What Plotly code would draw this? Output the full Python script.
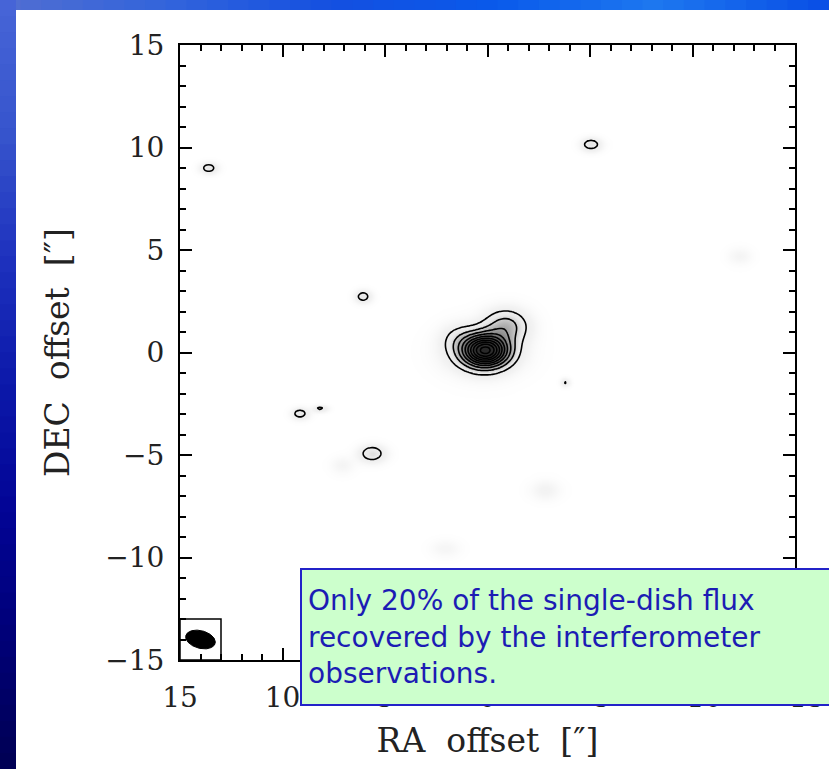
import numpy as np
import plotly.graph_objects as go

# ---------------- data ----------------
# emission components: RA offset, DEC offset ["], peak (contour units), widths ["]
src_ra = [0.10, 0.30, -0.90, 1.40, 13.6, -5.05, 6.07, 9.15, 8.17, 5.63, -3.78,
          -2.8, -12.3, 7.1, 2.07]
src_dec = [0.10, 0.05, 1.30, 0.70, 9.0, 10.15, 2.73, -2.98, -2.73, -4.93, -1.46,
           -6.7, 4.7, -5.5, -9.56]
src_amp = [9.0, 1.4, 2.3, 0.8, 1.4, 1.5, 1.4, 1.4, 1.15, 1.6, 1.08,
           0.55, 0.45, 0.45, 0.4]
src_sx = [0.72, 1.2, 0.72, 0.6, 0.30, 0.35, 0.28, 0.30, 0.25, 0.45, 0.15,
          0.5, 0.4, 0.4, 0.5]
src_sy = [0.50, 0.78, 0.55, 0.5, 0.20, 0.22, 0.22, 0.20, 0.12, 0.30, 0.15,
          0.35, 0.3, 0.3, 0.3]

contour_levels = dict(start=1, end=10, size=1)

beam_center = (14.0, -14.0)
beam_major = 0.74   # semi-axis ["]
beam_minor = 0.43
beam_angle = 15.0   # deg, from RA axis
beam_box = (13.0, 15.0, -15.0, -13.0)

tick_vals = [15, 10, 5, 0, -5, -10, -15]
tick_text = ["15", "10", "5", "0", "\u22125", "\u221210", "\u221215"]

note_text = ("Only 20% of the single-dish flux<br>"
             "recovered by the interferometer<br>"
             "observations.")

# ---------------- model image ----------------
ra = np.arange(-15, 15.0001, 0.1)
dec = np.arange(-15, 15.0001, 0.1)
RA, DEC = np.meshgrid(ra, dec)
img = np.zeros_like(RA)
for x0, y0, a, sx, sy in zip(src_ra, src_dec, src_amp, src_sx, src_sy):
    img += a * np.exp(-((RA - x0) ** 2 / (2 * sx ** 2) + (DEC - y0) ** 2 / (2 * sy ** 2)))

ZMAX = 11.0
gray_scale = [[0.0, "#ffffff"], [0.5 / ZMAX, "#f3f3f3"], [1.4 / ZMAX, "#e8e8e8"],
              [2.0 / ZMAX, "#cccccc"], [3.0 / ZMAX, "#a0a0a0"], [5.0 / ZMAX, "#606060"],
              [8.0 / ZMAX, "#383838"], [1.0, "#252525"]]

fig = go.Figure()
fig.add_trace(go.Heatmap(x=ra, y=dec, z=img, zmin=0, zmax=ZMAX, colorscale=gray_scale,
                         showscale=False, zsmooth="best", hoverinfo="skip"))
fig.add_trace(go.Contour(x=ra, y=dec, z=img, contours=dict(coloring="none", **contour_levels),
                         line=dict(color="black", width=1.6), showscale=False,
                         hoverinfo="skip"))

# beam ellipse
t = np.linspace(0, 2 * np.pi, 120)
th = np.deg2rad(beam_angle)
bx = beam_center[0] + beam_major * np.cos(t) * np.cos(th) - beam_minor * np.sin(t) * np.sin(th)
by = beam_center[1] + beam_major * np.cos(t) * np.sin(th) + beam_minor * np.sin(t) * np.cos(th)
fig.add_trace(go.Scatter(x=bx, y=by, mode="lines", fill="toself", fillcolor="black",
                         line=dict(color="black", width=1), hoverinfo="skip",
                         showlegend=False))

W, H = 829, 769
L, R, T, B = 180, 34, 45, 109
PW, PH = W - L - R, H - T - B


def px(xp):
    return (xp - L) / PW


def py(yp):
    return (H - B - yp) / PH


shapes = []
# slide background: left band gradient
left_cols = [(70, 100, 215), (55, 85, 205), (30, 50, 190), (12, 25, 170),
             (3, 5, 150), (0, 0, 120), (0, 0, 85)]
n = 48
for i in range(n):
    f = i / (n - 1) * (len(left_cols) - 1)
    k = min(int(f), len(left_cols) - 2)
    u = f - k
    c = [int(left_cols[k][j] * (1 - u) + left_cols[k + 1][j] * u) for j in range(3)]
    y0 = i * H / n
    y1 = (i + 1) * H / n + 1
    shapes.append(dict(type="rect", xref="paper", yref="paper", x0=px(0), x1=px(16),
                       y0=py(y1), y1=py(y0), fillcolor="rgb(%d,%d,%d)" % tuple(c),
                       line=dict(width=0), layer="below"))
top_cols = [(80, 110, 210), (50, 100, 220), (20, 80, 225), (10, 90, 235),
            (30, 120, 240), (10, 80, 230)]
n = 40
for i in range(n):
    f = i / (n - 1) * (len(top_cols) - 1)
    k = min(int(f), len(top_cols) - 2)
    u = f - k
    c = [int(top_cols[k][j] * (1 - u) + top_cols[k + 1][j] * u) for j in range(3)]
    x0 = i * W / n
    x1 = (i + 1) * W / n + 1
    shapes.append(dict(type="rect", xref="paper", yref="paper", x0=px(max(x0, 16)), x1=px(x1),
                       y0=py(10), y1=py(0), fillcolor="rgb(%d,%d,%d)" % tuple(c),
                       line=dict(width=0), layer="below"))
# beam box
shapes.append(dict(type="rect", xref="x", yref="y", x0=beam_box[0], x1=beam_box[1],
                   y0=beam_box[2], y1=beam_box[3], line=dict(color="black", width=1.5)))

serif = "DejaVu Serif"
axis_common = dict(showline=True, linecolor="black", linewidth=2, mirror="ticks",
                   ticks="inside", ticklen=12, tickwidth=1.5, tickcolor="black",
                   tickvals=tick_vals, ticktext=tick_text, showgrid=False, zeroline=False,
                   tickfont=dict(family=serif, size=28, color="#222"),
                   minor=dict(ticks="inside", ticklen=6, tickwidth=1.5, tickcolor="black",
                              dtick=1, showgrid=False))

fig.update_layout(
    width=W, height=H, margin=dict(l=L, r=R, t=T, b=B, autoexpand=False),
    paper_bgcolor="white", plot_bgcolor="white", showlegend=False,
    shapes=shapes,
    xaxis=dict(range=[15, -15], **axis_common, ticklabelstandoff=11,
               title=dict(text="RA\u00a0\u00a0offset\u00a0\u00a0[\u2033]",
                          font=dict(family=serif, size=33, color="#222"), standoff=16)),
    yaxis=dict(range=[-15, 15], **axis_common, ticklabelstandoff=8,
               title=dict(text="DEC\u00a0\u00a0offset\u00a0\u00a0[\u2033]",
                          font=dict(family=serif, size=33, color="#222"), standoff=26)),
    annotations=[dict(xref="paper", yref="paper", x=px(300), y=py(568),
                      xanchor="left", yanchor="top", text=note_text, showarrow=False,
                      align="left", valign="middle", width=560, height=122,
                      bgcolor="#ccffcc", bordercolor="#2323c8", borderwidth=2, borderpad=6,
                      font=dict(family="DejaVu Sans", size=28, color="#1c1cb4"))],
)

fig.write_html("out.html")
